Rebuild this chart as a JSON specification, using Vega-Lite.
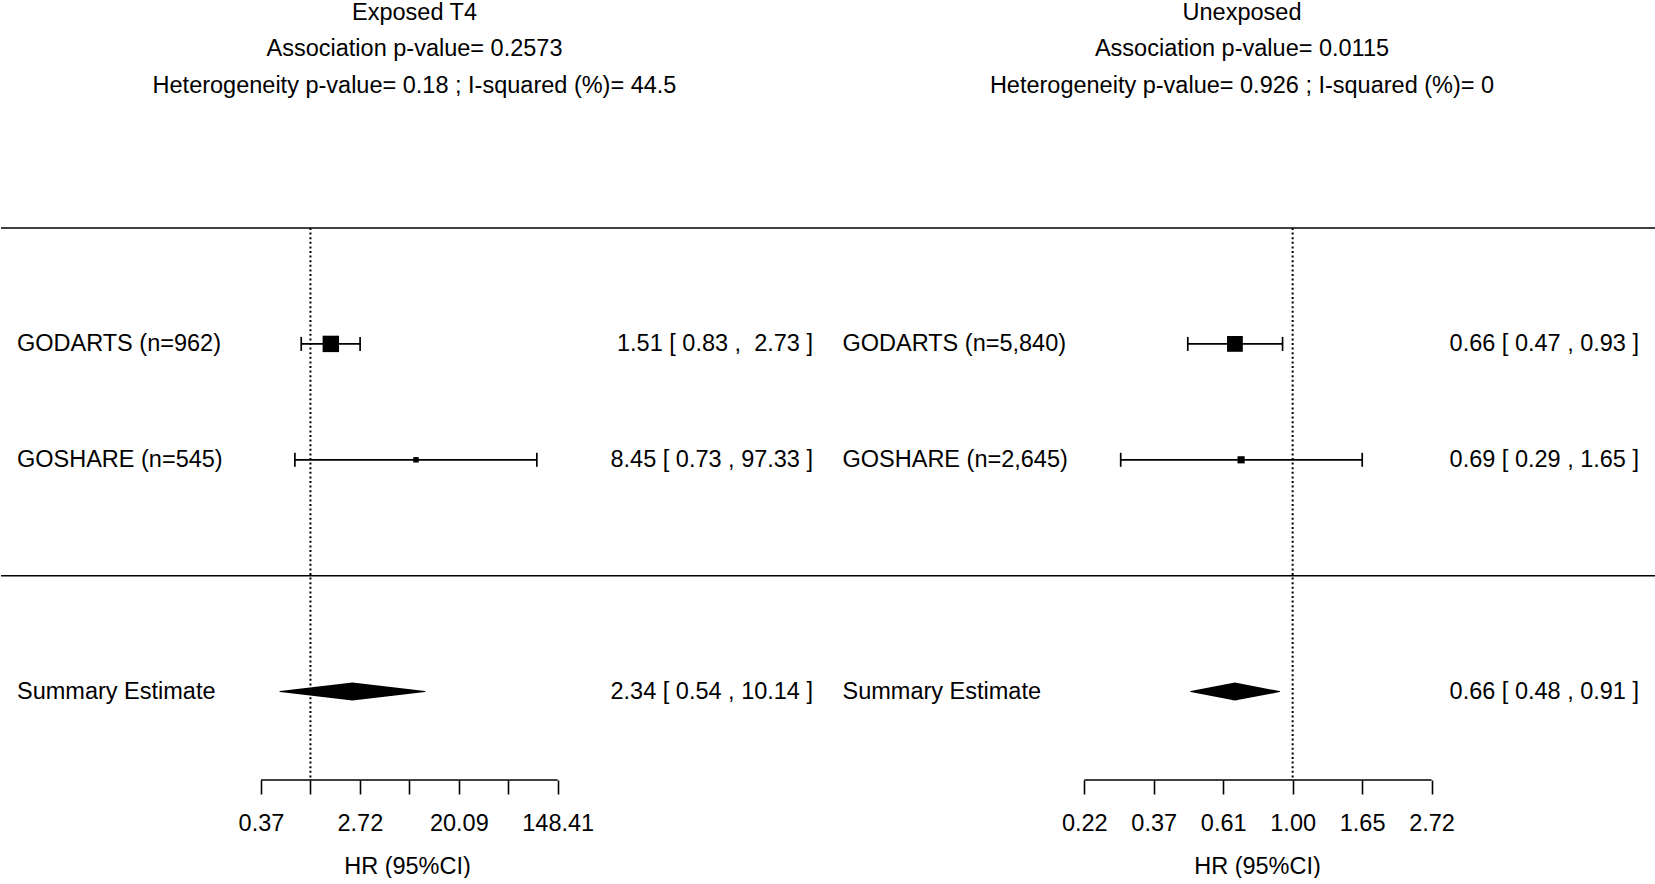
{
  "$schema": "https://vega.github.io/schema/vega-lite/v6.json",
  "padding": {"left": 0, "right": 0, "top": 0, "bottom": 0},
  "spacing": 0,
  "bounds": "flush",
  "config": {
    "view": {"stroke": null},
    "font": "Liberation Sans",
    "axis": {"grid": false},
    "concat": {"spacing": 0}
  },
  "datasets": {
    "rows": [
      {"panel": "Exposed T4", "kind": "study", "study": "GODARTS (n=962)", "row": 2, "hr": 1.51, "lo": 0.83, "hi": 2.73, "weight": 94.4, "ci": "1.51 [ 0.83 ,\u00a0 2.73 ]"},
      {"panel": "Exposed T4", "kind": "study", "study": "GOSHARE (n=545)", "row": 1, "hr": 8.45, "lo": 0.73, "hi": 97.33, "weight": 5.6, "ci": "8.45 [ 0.73 , 97.33 ]"},
      {"panel": "Exposed T4", "kind": "summary", "study": "Summary Estimate", "row": -1, "hr": 2.34, "lo": 0.54, "hi": 10.14, "ci": "2.34 [ 0.54 , 10.14 ]"},
      {"panel": "Unexposed", "kind": "study", "study": "GODARTS (n=5,840)", "row": 2, "hr": 0.66, "lo": 0.47, "hi": 0.93, "weight": 86.6, "ci": "0.66 [ 0.47 , 0.93 ]"},
      {"panel": "Unexposed", "kind": "study", "study": "GOSHARE (n=2,645)", "row": 1, "hr": 0.69, "lo": 0.29, "hi": 1.65, "weight": 13.4, "ci": "0.69 [ 0.29 , 1.65 ]"},
      {"panel": "Unexposed", "kind": "summary", "study": "Summary Estimate", "row": -1, "hr": 0.66, "lo": 0.48, "hi": 0.91, "ci": "0.66 [ 0.48 , 0.91 ]"}
    ]
  },
  "hconcat": [
    {
      "width": 827,
      "height": 552,
      "title": {
        "text": ["Exposed T4", "Association p-value= 0.2573", "Heterogeneity p-value= 0.18 ; I-squared (%)= 44.5"],
        "fontSize": 23.5, "fontWeight": "normal", "font": "Liberation Sans", "color": "#000",
        "lineHeight": 36.5, "anchor": "middle", "frame": "group", "offset": 130
      },
      "data": {"name": "rows"},
      "transform": [{"filter": "datum.panel === 'Exposed T4'"}],
      "layer": [
        {
          "data": {"values": [{"sep": "top"}]},
          "mark": {"type": "rule", "color": "#000", "strokeWidth": 1.6},
          "encoding": {
            "x": {"datum": 0.0019155, "type": "quantitative", "scale": {"type": "log", "domain": [0.0019155, 35105], "nice": false},
              "axis": {"values": [0.367879, 1, 2.718282, 7.389056, 20.085537, 54.59815, 148.413159],
                "labelExpr": "abs(round(log(datum.value))) % 2 == 1 ? format(datum.value, '.2f') : ''",
                "title": "HR (95%CI)", "domain": false, "grid": false, "tickSize": 14, "tickWidth": 1.6, "tickColor": "#000",
                "labelFontSize": 23.5, "labelFont": "Liberation Sans", "labelColor": "#000", "labelPadding": 17,
                "labelOverlap": false, "labelFlush": false, "labelBound": false,
                "titleFontSize": 23.5, "titleFont": "Liberation Sans", "titleFontWeight": "normal", "titleColor": "#000",
                "titlePadding": 20, "titleX": 406}},
            "x2": {"datum": 35105},
            "y": {"datum": 3, "type": "quantitative", "scale": {"domain": [-1.7625, 3], "nice": false, "zero": false}, "axis": null}
          }
        },
        {
          "data": {"values": [{"sep": "mid"}]},
          "mark": {"type": "rule", "color": "#000", "strokeWidth": 1.6},
          "encoding": {
            "x": {"datum": 0.0019155, "type": "quantitative"},
            "x2": {"datum": 35105},
            "y": {"datum": 0, "type": "quantitative"}
          }
        },
        {
          "data": {"values": [{"ref": 1}]},
          "mark": {"type": "rule", "color": "#000", "strokeWidth": 2, "strokeDash": [2, 2.6]},
          "encoding": {
            "x": {"field": "ref", "type": "quantitative"},
            "y": {"datum": 3, "type": "quantitative"},
            "y2": {"datum": -1.7625}
          }
        },
        {
          "data": {"values": [{"a": 0.367879, "b": 148.413159}]},
          "mark": {"type": "rule", "color": "#000", "strokeWidth": 1.6},
          "encoding": {
            "x": {"field": "a", "type": "quantitative"},
            "x2": {"field": "b"},
            "y": {"datum": -1.7625, "type": "quantitative"}
          }
        },
        {
          "transform": [{"filter": "datum.kind === 'study'"}],
          "mark": {"type": "rule", "color": "#000", "strokeWidth": 1.7},
          "encoding": {
            "x": {"field": "lo", "type": "quantitative"},
            "x2": {"field": "hi"},
            "y": {"field": "row", "type": "quantitative"}
          }
        },
        {
          "transform": [{"filter": "datum.kind === 'study'"}],
          "mark": {"type": "tick", "orient": "vertical", "size": 14, "thickness": 1.7, "color": "#000", "opacity": 1},
          "encoding": {
            "x": {"field": "lo", "type": "quantitative"},
            "y": {"field": "row", "type": "quantitative"}
          }
        },
        {
          "transform": [{"filter": "datum.kind === 'study'"}],
          "mark": {"type": "tick", "orient": "vertical", "size": 14, "thickness": 1.7, "color": "#000", "opacity": 1},
          "encoding": {
            "x": {"field": "hi", "type": "quantitative"},
            "y": {"field": "row", "type": "quantitative"}
          }
        },
        {
          "transform": [{"filter": "datum.kind === 'study'"}],
          "mark": {"type": "point", "shape": "square", "filled": true, "color": "#000", "opacity": 1, "strokeWidth": 0},
          "encoding": {
            "x": {"field": "hr", "type": "quantitative"},
            "y": {"field": "row", "type": "quantitative"},
            "size": {"field": "weight", "type": "quantitative", "scale": {"domain": [5.6, 94.4], "range": [30, 270]}, "legend": null}
          }
        },
        {
          "transform": [{"filter": "datum.kind === 'summary'"}, {"fold": ["lo", "hr", "hi"], "as": ["vertex", "value"]}],
          "mark": {"type": "trail", "color": "#000", "opacity": 1},
          "encoding": {
            "x": {"field": "value", "type": "quantitative"},
            "y": {"field": "row", "type": "quantitative"},
            "order": {"field": "value", "type": "quantitative"},
            "size": {"condition": {"test": "datum.vertex === 'hr'", "value": 18}, "value": 0}
          }
        },
        {
          "mark": {"type": "text", "align": "left", "baseline": "middle", "fontSize": 23.5, "color": "#000"},
          "encoding": {
            "x": {"datum": 0.002647, "type": "quantitative"},
            "y": {"field": "row", "type": "quantitative"},
            "text": {"field": "study"}
          }
        },
        {
          "mark": {"type": "text", "align": "right", "baseline": "middle", "fontSize": 23.5, "color": "#000"},
          "encoding": {
            "x": {"datum": 25921, "type": "quantitative"},
            "y": {"field": "row", "type": "quantitative"},
            "text": {"field": "ci"}
          }
        }
      ]
    },
    {
      "width": 828,
      "height": 552,
      "title": {
        "text": ["Unexposed", "Association p-value= 0.0115", "Heterogeneity p-value= 0.926 ; I-squared (%)= 0"],
        "fontSize": 23.5, "fontWeight": "normal", "font": "Liberation Sans", "color": "#000",
        "lineHeight": 36.5, "anchor": "middle", "frame": "group", "offset": 130
      },
      "data": {"name": "rows"},
      "transform": [{"filter": "datum.panel === 'Unexposed'"}],
      "layer": [
        {
          "data": {"values": [{"sep": "top"}]},
          "mark": {"type": "rule", "color": "#000", "strokeWidth": 1.6},
          "encoding": {
            "x": {"datum": 0.035254, "type": "quantitative", "scale": {"type": "log", "domain": [0.035254, 13.679], "nice": false},
              "axis": {"values": [0.22313, 0.367879, 0.606531, 1, 1.648721, 2.718282],
                "labelExpr": "format(datum.value, '.2f')",
                "title": "HR (95%CI)", "domain": false, "grid": false, "tickSize": 14, "tickWidth": 1.6, "tickColor": "#000",
                "labelFontSize": 23.5, "labelFont": "Liberation Sans", "labelColor": "#000", "labelPadding": 17,
                "labelOverlap": false, "labelFlush": false, "labelBound": false,
                "titleFontSize": 23.5, "titleFont": "Liberation Sans", "titleFontWeight": "normal", "titleColor": "#000",
                "titlePadding": 20, "titleX": 429}},
            "x2": {"datum": 13.679},
            "y": {"datum": 3, "type": "quantitative", "scale": {"domain": [-1.7625, 3], "nice": false, "zero": false}, "axis": null}
          }
        },
        {
          "data": {"values": [{"sep": "mid"}]},
          "mark": {"type": "rule", "color": "#000", "strokeWidth": 1.6},
          "encoding": {
            "x": {"datum": 0.035254, "type": "quantitative"},
            "x2": {"datum": 13.679},
            "y": {"datum": 0, "type": "quantitative"}
          }
        },
        {
          "data": {"values": [{"ref": 1}]},
          "mark": {"type": "rule", "color": "#000", "strokeWidth": 2, "strokeDash": [2, 2.6]},
          "encoding": {
            "x": {"field": "ref", "type": "quantitative"},
            "y": {"datum": 3, "type": "quantitative"},
            "y2": {"datum": -1.7625}
          }
        },
        {
          "data": {"values": [{"a": 0.22313, "b": 2.718282}]},
          "mark": {"type": "rule", "color": "#000", "strokeWidth": 1.6},
          "encoding": {
            "x": {"field": "a", "type": "quantitative"},
            "x2": {"field": "b"},
            "y": {"datum": -1.7625, "type": "quantitative"}
          }
        },
        {
          "transform": [{"filter": "datum.kind === 'study'"}],
          "mark": {"type": "rule", "color": "#000", "strokeWidth": 1.7},
          "encoding": {
            "x": {"field": "lo", "type": "quantitative"},
            "x2": {"field": "hi"},
            "y": {"field": "row", "type": "quantitative"}
          }
        },
        {
          "transform": [{"filter": "datum.kind === 'study'"}],
          "mark": {"type": "tick", "orient": "vertical", "size": 14, "thickness": 1.7, "color": "#000", "opacity": 1},
          "encoding": {
            "x": {"field": "lo", "type": "quantitative"},
            "y": {"field": "row", "type": "quantitative"}
          }
        },
        {
          "transform": [{"filter": "datum.kind === 'study'"}],
          "mark": {"type": "tick", "orient": "vertical", "size": 14, "thickness": 1.7, "color": "#000", "opacity": 1},
          "encoding": {
            "x": {"field": "hi", "type": "quantitative"},
            "y": {"field": "row", "type": "quantitative"}
          }
        },
        {
          "transform": [{"filter": "datum.kind === 'study'"}],
          "mark": {"type": "point", "shape": "square", "filled": true, "color": "#000", "opacity": 1, "strokeWidth": 0},
          "encoding": {
            "x": {"field": "hr", "type": "quantitative"},
            "y": {"field": "row", "type": "quantitative"},
            "size": {"field": "weight", "type": "quantitative", "scale": {"domain": [13.4, 86.6], "range": [30, 270]}, "legend": null}
          }
        },
        {
          "transform": [{"filter": "datum.kind === 'summary'"}, {"fold": ["lo", "hr", "hi"], "as": ["vertex", "value"]}],
          "mark": {"type": "trail", "color": "#000", "opacity": 1},
          "encoding": {
            "x": {"field": "value", "type": "quantitative"},
            "y": {"field": "row", "type": "quantitative"},
            "order": {"field": "value", "type": "quantitative"},
            "size": {"condition": {"test": "datum.vertex === 'hr'", "value": 18}, "value": 0}
          }
        },
        {
          "mark": {"type": "text", "align": "left", "baseline": "middle", "fontSize": 23.5, "color": "#000"},
          "encoding": {
            "x": {"datum": 0.039133, "type": "quantitative"},
            "y": {"field": "row", "type": "quantitative"},
            "text": {"field": "study"}
          }
        },
        {
          "mark": {"type": "text", "align": "right", "baseline": "middle", "fontSize": 23.5, "color": "#000"},
          "encoding": {
            "x": {"datum": 12.104, "type": "quantitative"},
            "y": {"field": "row", "type": "quantitative"},
            "text": {"field": "ci"}
          }
        }
      ]
    }
  ]
}
